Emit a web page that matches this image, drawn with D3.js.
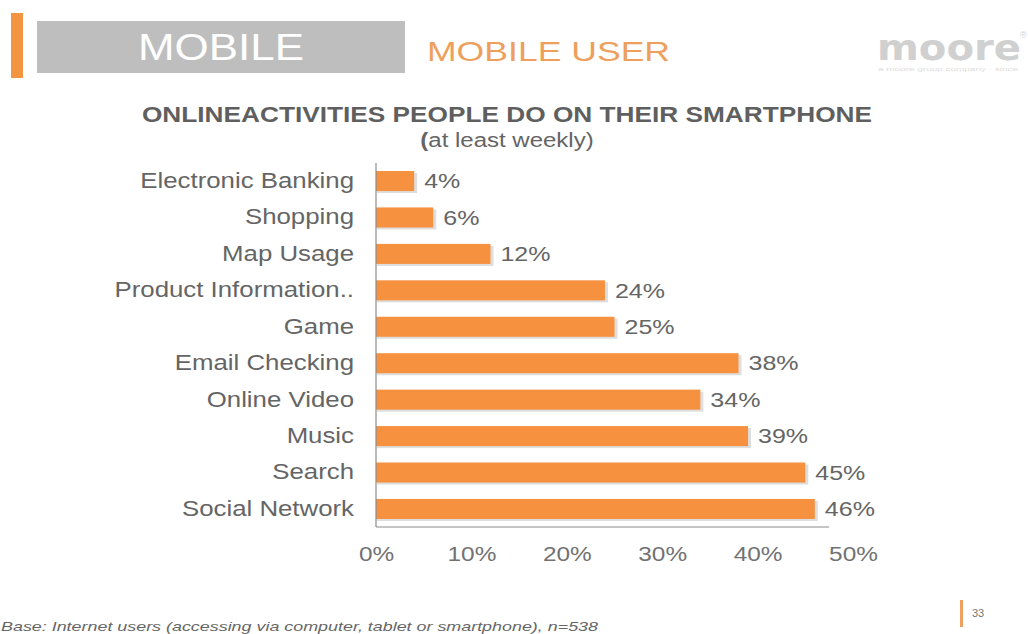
<!DOCTYPE html>
<html>
<head>
<meta charset="utf-8">
<script src="https://cdn.jsdelivr.net/npm/d3@7"></script>
<style>
  html, body { margin: 0; padding: 0; background: #fff; }
  svg { display: block; font-family: "Liberation Sans", Arial, Helvetica, sans-serif; }
</style>
</head>
<body>
<svg id="chart" width="1028" height="634"></svg>
<script>
// Weekly smartphone activities (share of respondents)
const categories = [
  "Electronic Banking", "Shopping", "Map Usage", "Product Information..",
  "Game", "Email Checking", "Online Video", "Music", "Search", "Social Network"
];
const values = [4, 6, 12, 24, 25, 38, 34, 39, 45, 46];
const tickValues = [0, 10, 20, 30, 40, 50];

const svg = d3.select("#chart");
const orange = "#F5913F";
const textGray = "#656565";

// The slide typography is set wide; widen each text run by a factor.
function widen(sel, factor) {
  sel.each(function () {
    const w = this.getComputedTextLength();
    d3.select(this).attr("textLength", w * factor).attr("lengthAdjust", "spacingAndGlyphs");
  });
  return sel;
}

// ---- Slide header ----
svg.append("rect").attr("x", 11).attr("y", 13).attr("width", 12).attr("height", 65)
  .attr("fill", "#F39440");
svg.append("rect").attr("x", 37).attr("y", 21).attr("width", 368).attr("height", 52)
  .attr("fill", "#BEBEBE");
widen(svg.append("text").attr("x", 221).attr("y", 60).attr("text-anchor", "middle")
  .attr("fill", "#fff").attr("font-size", 36).text("MOBILE"), 1.22);
widen(svg.append("text").attr("x", 427).attr("y", 61)
  .attr("fill", "#EE9F5C").attr("font-size", 28).text("MOBILE USER"), 1.27);
svg.append("text").attr("x", 877).attr("y", 60)
  .attr("fill", "#d0d0d0").attr("font-size", 36).attr("font-weight", "bold")
  .attr("font-family", "'DejaVu Sans', sans-serif")
  .attr("textLength", 144).attr("lengthAdjust", "spacingAndGlyphs")
  .text("moore");
svg.append("text").attr("x", 1020).attr("y", 38)
  .attr("fill", "#d0d0d0").attr("font-size", 9).text("®");
svg.append("text").attr("x", 878).attr("y", 71)
  .attr("fill", "#dcdcdc").attr("font-size", 6)
  .attr("textLength", 140).attr("lengthAdjust", "spacingAndGlyphs")
  .text("a moore group company · since");

// ---- Titles ----
widen(svg.append("text").attr("x", 507).attr("y", 122).attr("text-anchor", "middle")
  .attr("fill", "#5f5f5f").attr("font-size", 21.5).attr("font-weight", "bold")
  .text("ONLINEACTIVITIES PEOPLE DO ON THEIR SMARTPHONE"), 1.22);
const sub = svg.append("text").attr("x", 507).attr("y", 147).attr("text-anchor", "middle")
  .attr("fill", textGray).attr("font-size", 20);
sub.append("tspan").attr("font-weight", "bold").text("(");
sub.append("tspan").text("at least weekly)");
widen(sub, 1.2);

// ---- Chart ----
const x = d3.scaleLinear().domain([0, 50]).range([376, 853]);
const y = d3.scaleBand().domain(categories).range([163, 527]).paddingInner(0.45).paddingOuter(0.22);

const g = svg.append("g");

// soft drop shadow under each bar
g.selectAll("rect.shadow").data(values).join("rect")
  .attr("class", "shadow")
  .attr("x", x(0) + 1)
  .attr("y", (d, i) => y(categories[i]) + 2)
  .attr("width", d => x(d) - x(0) + 2)
  .attr("height", y.bandwidth())
  .attr("fill", "#dedede");

g.selectAll("rect.bar").data(values).join("rect")
  .attr("class", "bar")
  .attr("x", x(0))
  .attr("y", (d, i) => y(categories[i]))
  .attr("width", d => x(d) - x(0))
  .attr("height", y.bandwidth())
  .attr("fill", orange);

// value labels
widen(g.selectAll("text.val").data(values).join("text")
  .attr("class", "val")
  .attr("x", d => x(d) + 10)
  .attr("y", (d, i) => y(categories[i]) + y.bandwidth() / 2)
  .attr("dy", "0.36em")
  .attr("fill", textGray).attr("font-size", 20)
  .text(d => d + "%"), 1.25);

// category axis
const yAxis = d3.axisLeft(y).tickSize(0).tickPadding(22);
const ya = svg.append("g").attr("transform", `translate(${x(0)},0)`).call(yAxis);
ya.select(".domain").attr("stroke", "#8c8c8c").attr("stroke-width", 1.2)
  .attr("d", `M0,163V527`);
widen(ya.selectAll("text").attr("fill", textGray).attr("font-size", 21.5)
  .attr("font-family", "'Liberation Sans', Arial, sans-serif"), 1.2);

// value axis
const xAxis = d3.axisBottom(x).tickValues(tickValues).tickSize(0).tickPadding(20)
  .tickFormat(d => d + "%");
const xa = svg.append("g").attr("transform", "translate(0,527)").call(xAxis);
xa.select(".domain").attr("stroke", "#8c8c8c").attr("stroke-width", 1.2)
  .attr("d", `M${x(0)},0H${x(47.5)}`);
widen(xa.selectAll("text").attr("fill", "#727272").attr("font-size", 20)
  .attr("font-family", "'Liberation Sans', Arial, sans-serif"), 1.22);

// ---- Footer ----
svg.append("text").attr("x", 1).attr("y", 631)
  .attr("fill", "#666").attr("font-size", 13).attr("font-style", "italic")
  .attr("textLength", 597).attr("lengthAdjust", "spacingAndGlyphs")
  .text("Base: Internet users (accessing via computer, tablet or smartphone), n=538");
svg.append("rect").attr("x", 960).attr("y", 600).attr("width", 3).attr("height", 27)
  .attr("fill", "#F0A060");
svg.append("text").attr("x", 972).attr("y", 617)
  .attr("fill", "#777").attr("font-size", 11).text("33");
</script>
</body>
</html>
